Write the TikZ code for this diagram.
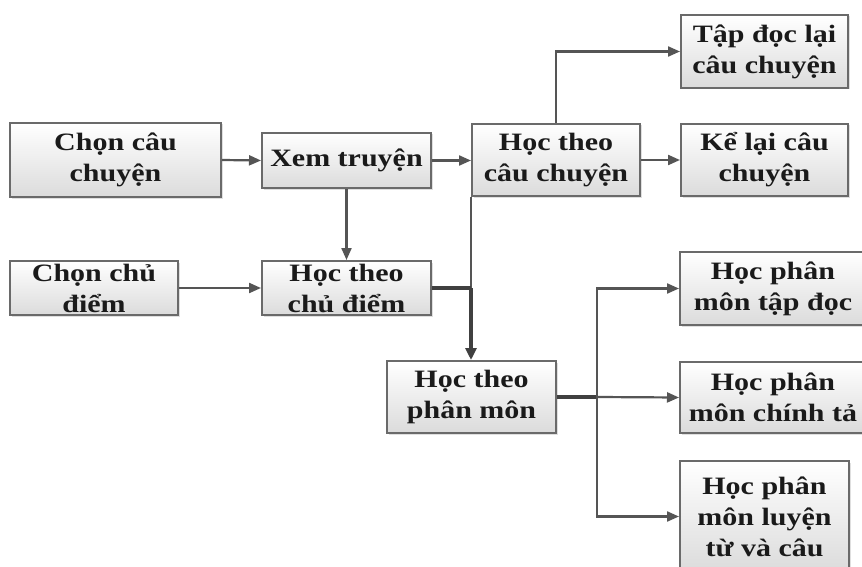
\documentclass[tikz,border=0pt]{standalone}
\usepackage{fontspec}
\setmainfont{Liberation Serif}[FakeStretch=1.2]
\usetikzlibrary{arrows.meta,shadows}
\definecolor{boxline}{HTML}{6A6A6A}
\definecolor{wire}{HTML}{555555}
\definecolor{wirebold}{HTML}{404040}
\definecolor{ink}{HTML}{1A1A1A}
\begin{document}
\begin{tikzpicture}[x=1pt,y=-1pt,
  card/.style={draw=boxline,line width=2pt,top color=white,bottom color=black!14,
    inner sep=0pt,rectangle,
    drop shadow={opacity=0.25,shadow xshift=1.5pt,shadow yshift=-1.5pt}},
  caption/.style={inner sep=0pt,align=center,text=ink,
    font=\fontsize{25}{31}\selectfont\bfseries},
  link/.style={draw=wire,line width=2.2pt,-{Triangle[length=12pt,width=10pt]}},
  plain/.style={draw=wire,line width=2.2pt},
  heavy/.style={draw=wirebold,line width=3.2pt},
]
\useasboundingbox (0,0) rectangle (862,567);
\clip (0,0) rectangle (862,567);
\fill[white] (0,0) rectangle (862,567);

% boxes (center, size)
\node[card,minimum width=211pt,minimum height=74pt] (b1) at (115.5,160) {};
\node[card,minimum width=168pt,minimum height=54pt] (b2) at (94,288) {};
\node[card,minimum width=169pt,minimum height=55pt] (xem) at (346.5,160.5) {};
\node[card,minimum width=169pt,minimum height=54pt] (hcd) at (346.5,288) {};
\node[card,minimum width=168pt,minimum height=72pt] (hcc) at (556,160) {};
\node[card,minimum width=167pt,minimum height=73pt] (tap) at (764.5,51.5) {};
\node[card,minimum width=167pt,minimum height=72pt] (ke) at (764.5,160) {};
\node[card,minimum width=169pt,minimum height=72pt] (hpm) at (471.5,397) {};
\node[card,minimum width=186pt,minimum height=73pt] (td) at (773,288.5) {};
\node[card,minimum width=186pt,minimum height=71pt] (ct) at (773,397.5) {};
\node[card,minimum width=169pt,minimum height=111pt] (ltvc) at (764.5,516.5) {};

% labels
\node[caption] (b1t) at (b1.center) {Chọn câu\\chuyện};
\node[caption] (b2t) at (b2.center) {Chọn chủ\\điểm};
\node[caption] (xemt) at (xem.center) {Xem truyện};
\node[caption] (hcdt) at (hcd.center) {Học theo\\chủ điểm};
\node[caption] (hcct) at (hcc.center) {Học theo\\câu chuyện};
\node[caption] (tapt) at (tap.center) {Tập đọc lại\\câu chuyện};
\node[caption] (ket) at (ke.center) {Kể lại câu\\chuyện};
\node[caption] (hpmt) at (hpm.center) {Học theo\\phân môn};
\node[caption] (tdt) at (td.center) {Học phân\\môn tập đọc};
\node[caption] (ctt) at (ct.center) {Học phân\\môn chính tả};
\node[caption] (ltvct) at (ltvc.center) {Học phân\\môn luyện\\từ và câu};

% junctions
\coordinate (j1) at (hcc.south west |- hcd.east);
\coordinate (j2) at (597,397);

% connectors
\draw[link] (b1.east) -- (xem.west);
\draw[link] (b2.east) -- (hcd.west);
\draw[link] (xem.east) -- (hcc.west |- xem.east);
\draw[link] (xem.south) -- (hcd.north);
\draw[link] (hcc.north) |- (tap.west);
\draw[link] (hcc.east) -- (ke.west);
\draw[plain] (hcc.south west) -- (j1);
\draw[heavy] (hcd.east) -- (j1);
\draw[heavy,-{Triangle[length=12pt,width=11pt]}] (j1) -- (j1 |- hpm.north);
\draw[heavy] (hpm.east) -- (j2);
\draw[link] (j2) -- (ct.west);
\draw[link] (j2) |- (td.west);
\draw[link] (j2) |- (ltvc.west);
\end{tikzpicture}
\end{document}
